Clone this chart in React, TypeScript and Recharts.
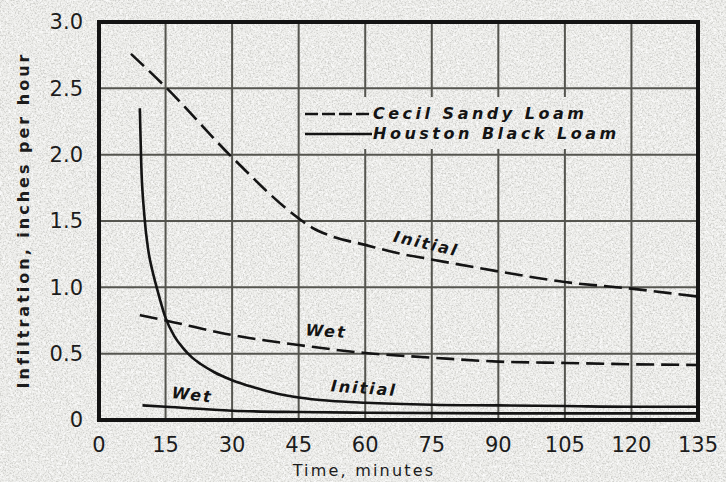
import React from 'react'
import {
  LineChart,
  Line,
  XAxis,
  YAxis,
  CartesianGrid,
  ReferenceArea,
  ReferenceDot,
  Legend,
} from 'recharts'

// time in minutes, infiltration rate in inches per hour
const timeTicks = [0, 15, 30, 45, 60, 75, 90, 105, 120, 135]
const rateTicks = [0, 0.5, 1, 1.5, 2, 2.5, 3]

const cecilInitial = [
  { t: 7.2, v: 2.76 },
  { t: 15, v: 2.51 },
  { t: 30, v: 1.98 },
  { t: 45, v: 1.52 },
  { t: 48, v: 1.45 },
  { t: 52, v: 1.39 },
  { t: 60, v: 1.32 },
  { t: 67, v: 1.26 },
  { t: 75, v: 1.21 },
  { t: 90, v: 1.12 },
  { t: 105, v: 1.04 },
  { t: 120, v: 0.99 },
  { t: 135, v: 0.93 },
]

const cecilWet = [
  { t: 9.2, v: 0.79 },
  { t: 15, v: 0.75 },
  { t: 30, v: 0.64 },
  { t: 45, v: 0.565 },
  { t: 60, v: 0.505 },
  { t: 75, v: 0.47 },
  { t: 90, v: 0.44 },
  { t: 105, v: 0.43 },
  { t: 120, v: 0.42 },
  { t: 135, v: 0.415 },
]

const houstonInitial = [
  { t: 9.2, v: 2.35 },
  { t: 9.5, v: 1.95 },
  { t: 10.2, v: 1.55 },
  { t: 11.1, v: 1.28 },
  { t: 12, v: 1.13 },
  { t: 13, v: 1.0 },
  { t: 15, v: 0.77 },
  { t: 17, v: 0.63 },
  { t: 19, v: 0.54 },
  { t: 21, v: 0.47 },
  { t: 23, v: 0.42 },
  { t: 26, v: 0.36 },
  { t: 30, v: 0.3 },
  { t: 35, v: 0.245 },
  { t: 40, v: 0.2 },
  { t: 45, v: 0.17 },
  { t: 52, v: 0.145 },
  { t: 60, v: 0.13 },
  { t: 75, v: 0.115 },
  { t: 90, v: 0.11 },
  { t: 105, v: 0.105 },
  { t: 120, v: 0.1 },
  { t: 135, v: 0.1 },
]

const houstonWet = [
  { t: 9.8, v: 0.11 },
  { t: 15, v: 0.1 },
  { t: 30, v: 0.07 },
  { t: 45, v: 0.06 },
  { t: 60, v: 0.055 },
  { t: 90, v: 0.05 },
  { t: 135, v: 0.05 },
]

const curveLabels = [
  { text: 'Initial', t: 73.7, v: 1.33, angle: 13 },
  { text: 'Wet', t: 51.2, v: 0.67, angle: 4 },
  { text: 'Wet', t: 21, v: 0.19, angle: 6 },
  { text: 'Initial', t: 59.7, v: 0.24, angle: 4 },
]

const legendItems = [
  { name: 'Cecil Sandy Loam', dashed: true },
  { name: 'Houston Black Loam', dashed: false },
]

const INK = '#141414'
const GRID = '#55554f'
const PAPER = '#eeeeeb'
const LETTER_FONT = '"DejaVu Sans", sans-serif'

// the grainy paper fill, reused behind the legend so it blends in
const PaperRects = ({ width, height }: { width: number; height: number }) => (
  <>
    <rect x={0} y={0} width={width} height={height} fill={PAPER} />
    <rect
      x={0}
      y={0}
      width={width}
      height={height}
      filter="url(#paperLight)"
      opacity={0.8}
    />
    <rect
      x={0}
      y={0}
      width={width}
      height={height}
      filter="url(#paperDark)"
      opacity={0.6}
    />
  </>
)

const renderLegend = () => (
  <div
    style={{
      position: 'relative',
      width: 322,
      height: 52,
      paddingTop: 7,
      boxSizing: 'border-box',
    }}
  >
    <svg
      width={322}
      height={52}
      style={{ position: 'absolute', left: 0, top: 0 }}
    >
      <PaperRects width={322} height={52} />
    </svg>
    {legendItems.map((item) => (
      <div
        key={item.name}
        style={{
          position: 'relative',
          display: 'flex',
          alignItems: 'center',
          height: 20,
        }}
      >
        <svg width={71} height={6} style={{ display: 'block' }}>
          <line
            x1={3}
            y1={3}
            x2={70}
            y2={3}
            stroke={INK}
            strokeWidth={2.6}
            strokeDasharray={item.dashed ? '13 4' : undefined}
          />
        </svg>
        <span
          style={{
            fontFamily: LETTER_FONT,
            fontWeight: 'bold',
            fontStyle: 'italic',
            fontSize: 16,
            letterSpacing: 3.5,
            color: INK,
            lineHeight: '20px',
            whiteSpace: 'nowrap',
          }}
        >
          {item.name}
        </span>
      </div>
    ))}
  </div>
)

const makeCurveLabel = (text: string, angle: number) => (props: any) => {
  const vb = props.viewBox || {}
  const cx = (vb.x || 0) + (vb.width || 0) / 2
  const cy = (vb.y || 0) + (vb.height || 0) / 2
  return (
    <text
      x={cx}
      y={cy}
      transform={`rotate(${angle} ${cx} ${cy})`}
      textAnchor="middle"
      dominantBaseline="central"
      fontFamily={LETTER_FONT}
      fontWeight="bold"
      fontStyle="italic"
      fontSize={16}
      letterSpacing={2}
      fill={INK}
    >
      {text}
    </text>
  )
}

const PaperBackground = () => (
  <svg
    width={726}
    height={482}
    style={{ position: 'absolute', left: 0, top: 0 }}
  >
    <defs>
      <filter id="paperDark" x="0" y="0" width="100%" height="100%">
        <feTurbulence
          type="fractalNoise"
          baseFrequency="0.6"
          numOctaves={3}
          seed={7}
        />
        <feColorMatrix
          type="matrix"
          values="0 0 0 0 0.5  0 0 0 0 0.5  0 0 0 0 0.48  3.2 0 0 0 -1.45"
        />
      </filter>
      <filter id="paperLight" x="0" y="0" width="100%" height="100%">
        <feTurbulence
          type="fractalNoise"
          baseFrequency="0.35"
          numOctaves={2}
          seed={19}
        />
        <feColorMatrix
          type="matrix"
          values="0 0 0 0 1  0 0 0 0 1  0 0 0 0 1  3 0 0 0 -1.3"
        />
      </filter>
    </defs>
    <PaperRects width={726} height={482} />
  </svg>
)

export default function App() {
  return (
    <div
      style={{
        position: 'absolute',
        left: 0,
        top: 0,
        width: 726,
        height: 482,
        overflow: 'hidden',
      }}
    >
      <PaperBackground />
      <div style={{ position: 'absolute', left: 0, top: 0 }}>
        <LineChart
          width={726}
          height={482}
          margin={{ top: 22, right: 28, bottom: 0, left: 0 }}
        >
          <CartesianGrid stroke={GRID} strokeWidth={2} />
          <XAxis
            type="number"
            dataKey="t"
            domain={[0, 135]}
            ticks={timeTicks}
            allowDataOverflow
            axisLine={false}
            tickLine={false}
            tickSize={6}
            tickMargin={11}
            height={62}
            tick={{ fill: '#1c1c1c', fontSize: 21, fontFamily: LETTER_FONT }}
            label={{
              content: () => (
                <text
                  x={364}
                  y={476}
                  textAnchor="middle"
                  fontFamily={LETTER_FONT}
                  fontSize={16}
                  letterSpacing={2.2}
                  fill="#1c1c1c"
                >
                  Time, minutes
                </text>
              ),
            }}
          />
          <YAxis
            type="number"
            dataKey="v"
            domain={[0, 3]}
            ticks={rateTicks}
            allowDataOverflow
            axisLine={false}
            tickLine={false}
            tickSize={6}
            tickMargin={10}
            width={99}
            tickFormatter={(v: number) => (v === 0 ? '0' : v.toFixed(1))}
            tick={{ fill: '#1c1c1c', fontSize: 21, fontFamily: LETTER_FONT }}
            label={{
              content: () => (
                <text
                  x={23}
                  y={220}
                  transform="rotate(-90 23 220)"
                  textAnchor="middle"
                  dominantBaseline="central"
                  fontFamily={LETTER_FONT}
                  fontWeight="bold"
                  fontSize={16}
                  letterSpacing={3}
                  fill="#1c1c1c"
                >
                  Infiltration, inches per hour
                </text>
              ),
            }}
          />
          <Line
            data={cecilInitial}
            dataKey="v"
            type="monotone"
            stroke={INK}
            strokeWidth={2.6}
            strokeDasharray="18 7"
            dot={false}
            activeDot={false}
            isAnimationActive={false}
          />
          <Line
            data={cecilWet}
            dataKey="v"
            type="monotone"
            stroke={INK}
            strokeWidth={2.6}
            strokeDasharray="18 7"
            dot={false}
            activeDot={false}
            isAnimationActive={false}
          />
          <Line
            data={houstonInitial}
            dataKey="v"
            type="monotone"
            stroke={INK}
            strokeWidth={2.6}
            dot={false}
            activeDot={false}
            isAnimationActive={false}
          />
          <Line
            data={houstonWet}
            dataKey="v"
            type="monotone"
            stroke={INK}
            strokeWidth={2.6}
            dot={false}
            activeDot={false}
            isAnimationActive={false}
          />
          <ReferenceArea
            x1={0}
            x2={135}
            y1={0}
            y2={3}
            fill="none"
            stroke={INK}
            strokeWidth={4}
          />
          {curveLabels.map((l, i) => (
            <ReferenceDot
              key={i}
              x={l.t}
              y={l.v}
              r={0}
              fill="none"
              stroke="none"
              label={makeCurveLabel(l.text, l.angle)}
            />
          ))}
          <Legend
            layout="vertical"
            align="center"
            verticalAlign="middle"
            content={renderLegend}
            wrapperStyle={{ left: 302, top: 97, width: 322, height: 52 }}
          />
        </LineChart>
      </div>
    </div>
  )
}
